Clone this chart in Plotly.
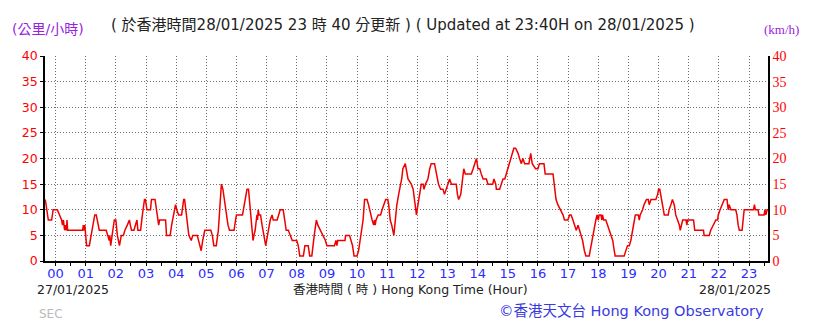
import plotly.graph_objects as go

# ---- data (hours relative to 00:00 of 28/01/2025, wind speed km/h) ----
hours = [-0.34, -0.30, -0.24, -0.13, -0.08, 0.06, 0.14, 0.20, 0.23, 0.26, 0.30, 0.33, 0.36, 0.38, 0.40, 0.90, 0.92, 0.95, 0.97,
         1.00, 1.03, 1.12, 1.18, 1.25, 1.30, 1.35, 1.42, 1.45, 1.68, 1.72, 1.78, 1.80, 1.83, 1.90, 1.95,
         2.00, 2.05, 2.12, 2.18, 2.25, 2.30, 2.38, 2.45, 2.48, 2.52, 2.60, 2.65, 2.70, 2.73, 2.82, 2.88, 2.95, 2.98,
         3.03, 3.15, 3.18, 3.30, 3.35, 3.40, 3.42, 3.45, 3.65, 3.68, 3.80, 3.85, 3.92, 3.98,
         4.02, 4.08, 4.18, 4.25, 4.28, 4.33, 4.38, 4.42, 4.50, 4.55, 4.70, 4.75, 4.80, 4.83, 4.88, 4.95,
         5.15, 5.20, 5.25, 5.33, 5.40, 5.45, 5.50, 5.55, 5.60, 5.65, 5.72, 5.77, 5.92, 5.97,
         6.00, 6.20, 6.25, 6.30, 6.35, 6.40, 6.45, 6.50, 6.55, 6.58, 6.62, 6.66, 6.68, 6.70, 6.72, 6.75, 6.80, 6.85, 6.90, 6.97,
         7.03, 7.08, 7.12, 7.18, 7.22, 7.35, 7.40, 7.45, 7.55, 7.60, 7.65, 7.72, 7.78, 7.85,
         8.00, 8.05, 8.10, 8.22, 8.27, 8.38, 8.43, 8.50, 8.58, 8.65, 8.70, 8.78, 8.85, 8.95,
         9.00, 9.25, 9.30, 9.33, 9.36, 9.60, 9.62, 9.75, 9.80, 9.85, 9.90,
         10.00, 10.05, 10.10, 10.15, 10.20, 10.25, 10.33, 10.38, 10.45, 10.50, 10.55, 10.58, 10.60, 10.63, 10.70, 10.78, 10.83, 10.90, 10.95,
         11.02, 11.05, 11.10, 11.15, 11.22, 11.27, 11.32, 11.38, 11.42, 11.48, 11.52, 11.58, 11.60, 11.69, 11.80, 11.86, 11.91, 11.97,
         12.02, 12.08, 12.13, 12.19, 12.22, 12.27, 12.35, 12.41, 12.46, 12.57, 12.60, 12.65, 12.70, 12.77, 12.85, 12.90, 12.96,
         13.02, 13.07, 13.13, 13.29, 13.33, 13.37, 13.44, 13.48, 13.54, 13.59, 13.79, 13.85, 13.90, 13.96,
         14.01, 14.07, 14.12, 14.18, 14.29, 14.34, 14.50, 14.54, 14.60, 14.62, 14.73, 14.78, 14.84, 14.90, 14.95,
         15.00, 15.06, 15.12, 15.20, 15.26, 15.34, 15.39, 15.45, 15.50, 15.56, 15.70, 15.76, 15.81, 15.92,
         16.00, 16.05, 16.20, 16.24, 16.50, 16.55, 16.60, 16.66, 16.75, 16.83, 16.88, 16.99,
         17.05, 17.10, 17.16, 17.22, 17.27, 17.33, 17.38, 17.44, 17.48, 17.54, 17.59, 17.70, 17.76, 17.81, 17.87, 17.92, 17.96,
         18.00, 18.03, 18.09, 18.12, 18.14, 18.18, 18.25, 18.31, 18.36, 18.42, 18.48, 18.53, 18.56, 18.86, 18.92, 18.97,
         19.03, 19.08, 19.14, 19.17, 19.19, 19.23, 19.33, 19.36, 19.39, 19.47, 19.52, 19.60, 19.66, 19.69, 19.75, 19.91, 19.97,
         20.00, 20.04, 20.10, 20.13, 20.19, 20.32, 20.35, 20.41, 20.46, 20.52, 20.57, 20.63, 20.69, 20.72, 20.76, 20.80, 20.91, 20.94, 20.96,
         21.16, 21.20, 21.49, 21.51, 21.68, 21.73, 21.82, 21.90, 21.96, 21.98,
         22.04, 22.12, 22.18, 22.27, 22.31, 22.34, 22.40, 22.56, 22.60, 22.64, 22.68, 22.77, 22.80, 22.84,
         23.15, 23.18, 23.21, 23.30, 23.33, 23.50, 23.53, 23.56, 23.60, 23.66]

speeds = [12, 10, 8, 8, 10, 10, 9, 8, 7, 8, 6, 7, 6, 8, 6, 6, 7, 6, 7,
          5, 3, 3, 5, 8, 9, 9, 7, 6, 6, 5, 4, 5, 3, 6, 8,
          8, 5, 3, 5, 5, 6, 7, 8, 7, 6, 6, 7, 8, 6, 6, 9, 12, 12,
          10, 10, 12, 12, 10, 8, 7, 8, 8, 5, 5, 7, 9, 11,
          10, 9, 9, 12, 12, 9, 6, 5, 4, 5, 5, 4, 3, 2, 4, 6,
          6, 5, 3, 3, 6, 11, 15, 14, 12, 9, 7, 6, 6, 8,
          9, 9, 11, 13, 14, 14, 11, 7, 4, 5, 6, 8, 9, 8, 10, 9, 9, 7, 5, 3,
          5, 7, 8, 9, 8, 8, 9, 10, 10, 8, 6, 6, 5, 4,
          4, 3, 1, 1, 3, 3, 1, 1, 5, 8, 7, 6, 5, 4,
          3, 3, 4, 3, 4, 4, 5, 5, 4, 3, 1,
          1, 2, 4, 6, 8, 12, 12, 11, 9, 8, 7, 8, 7, 8, 9, 9, 10, 11, 12,
          12, 11, 8, 7, 5, 8, 11, 13, 14, 16, 18, 19, 19, 16, 15, 14, 12, 9,
          11, 13, 15, 15, 14, 15, 16, 18, 19, 19, 18, 16, 15, 14, 14, 13, 14,
          15, 16, 15, 15, 13, 12, 13, 15, 18, 17, 17, 18, 19, 20,
          18, 18, 17, 16, 16, 15, 15, 16, 15, 14, 14, 15, 16, 16, 17,
          18, 19, 20, 22, 22, 21, 20, 19, 20, 19, 19, 21, 19, 18,
          18, 19, 19, 17, 17, 14, 12, 11, 10, 9, 8, 8,
          9, 9, 8, 7, 6, 7, 6, 5, 4, 2, 1, 1, 3, 5, 7, 8, 9,
          8, 9, 9, 8, 9, 8, 8, 7, 6, 5, 4, 2, 1, 1, 2, 3,
          3, 4, 6, 7, 8, 9, 9, 8, 9, 10, 11, 12, 12, 11, 12, 12, 13,
          14, 14, 12, 11, 9, 9, 10, 11, 12, 11, 9, 8, 7, 6, 7, 8, 8, 7, 8,
          8, 6, 6, 5, 5, 6, 7, 8, 8, 9,
          10, 11, 12, 12, 10, 11, 10, 10, 9, 7, 6, 6, 8, 10,
          10, 11, 10, 10, 9, 9, 10, 9, 10, 10]

tick_hours = list(range(24))
tick_labels = ["%02d" % h for h in tick_hours]
y_ticks = list(range(0, 45, 5))

title_text = "( 於香港時間28/01/2025 23 時 40 分更新 ) ( Updated at 23:40H on 28/01/2025 )"
unit_left = "(公里/小時)"
unit_right = "(km/h)"
date_start = "27/01/2025"
date_end = "28/01/2025"
x_title = "香港時間 ( 時 ) Hong Kong Time (Hour)"
credit = "©香港天文台 Hong Kong Observatory"
tag = "SEC"

# ---- layout geometry ----
W, H = 819, 324
L, R, T, B = 45, 768, 56, 261


def px(x):
    return (x - L) / (R - L)


def py(y):
    return (B - y) / (B - T)


SANS = "DejaVu Sans, Noto Sans CJK TC, sans-serif"
CJK = "DejaVu Sans, Noto Sans CJK TC, sans-serif"
SERIF = "Liberation Serif, DejaVu Serif, serif"
GRID = "#6e6e6e"
GDASH = "1px,2px"

fig = go.Figure()
fig.add_trace(go.Scatter(x=hours, y=speeds, mode="lines",
                         line=dict(color="#ee0000", width=1.5),
                         hoverinfo="skip", showlegend=False))
fig.add_trace(go.Scatter(x=hours, y=speeds, mode="lines", yaxis="y2",
                         line=dict(color="rgba(0,0,0,0)", width=0),
                         hoverinfo="skip", showlegend=False))

fig.update_layout(
    width=W, height=H,
    margin=dict(l=L, r=W - R, t=T, b=H - B, pad=0),
    paper_bgcolor="white", plot_bgcolor="white",
    showlegend=False,
    xaxis=dict(range=[-0.35, 23.63], tickvals=tick_hours, ticktext=tick_labels,
               showgrid=True, gridcolor=GRID, griddash=GDASH, gridwidth=1,
               showline=True, linecolor="black", linewidth=1.5,
               ticks="", tickfont=dict(family=SANS, size=13, color="#2b2bff"),
               zeroline=False,
               minor=dict(ticks="outside", ticklen=3, tickcolor="black", dtick=0.5, tick0=0.5, showgrid=False)),
    yaxis=dict(range=[0, 40], tickvals=y_ticks, showgrid=True, gridcolor=GRID, griddash=GDASH,
               gridwidth=1, showline=True, linecolor="black", linewidth=1.5,
               ticks="outside", ticklen=3, tickcolor="black",
               tickfont=dict(family=SANS, size=12.5, color="#ff0000"), zeroline=False),
    yaxis2=dict(range=[0, 40], tickvals=y_ticks, overlaying="y", side="right",
                showgrid=False, showline=True, linecolor="black", linewidth=1.5,
                ticks="", tickfont=dict(family=SERIF, size=14, color="#ff0000"), zeroline=False),
)

ann = [
    dict(text=unit_left, x=px(48), y=py(29), xanchor="center", font=dict(family=CJK, size=14, color="#9922dd")),
    dict(text=title_text, x=px(402.5), y=py(25), xanchor="center", font=dict(family=CJK, size=15, color="#222222")),
    dict(text=unit_right, x=px(781), y=py(29), xanchor="center", font=dict(family=SERIF, size=13, color="#9922dd")),
    dict(text=date_start, x=px(35), y=py(289), xanchor="left", font=dict(family=SANS, size=12.5, color="#222222")),
    dict(text=x_title, x=px(410), y=py(289), xanchor="center", font=dict(family=CJK, size=12.5, color="#222222")),
    dict(text=date_end, x=px(773), y=py(289), xanchor="right", font=dict(family=SANS, size=12.5, color="#222222")),
    dict(text=tag, x=px(37), y=py(314), xanchor="left", font=dict(family=SANS, size=12, color="#bbbbbb")),
    dict(text=credit, x=px(631.5), y=py(311), xanchor="center", font=dict(family=CJK, size=14.5, color="#3a3ae0")),
]
for a in ann:
    fig.add_annotation(xref="paper", yref="paper", yanchor="middle", showarrow=False, **a)

fig.write_html("out.html")
